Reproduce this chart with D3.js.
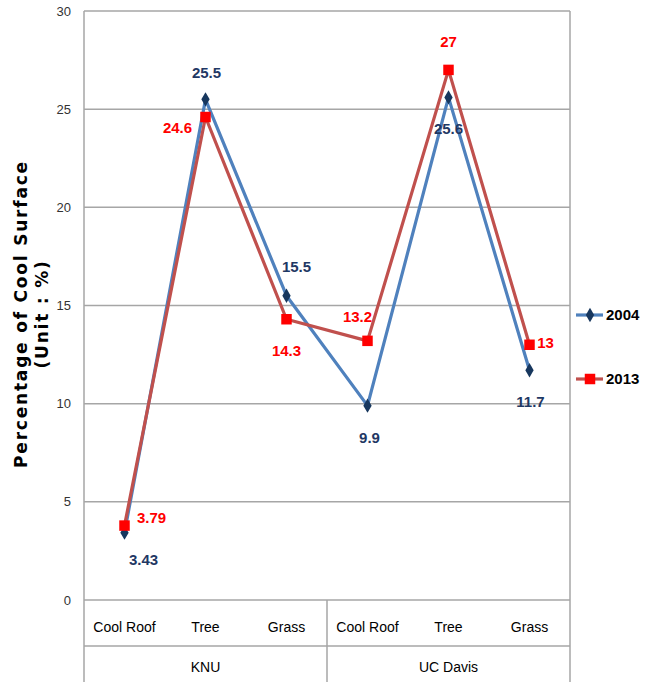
<!DOCTYPE html>
<html><head><meta charset="utf-8">
<script src="https://cdn.jsdelivr.net/npm/d3@7"></script>
<style>
body{margin:0;background:#fff;}
svg{display:block;}
</style></head>
<body>
<svg id="chart" width="655" height="682"></svg>
<script>
// ---- data ----
const categories = ["Cool Roof","Tree","Grass","Cool Roof","Tree","Grass"];
const groups = ["KNU","UC Davis"];
const seriesNames = ["2004","2013"];
const values2004 = [3.43, 25.5, 15.5, 9.9, 25.6, 11.7];
const values2013 = [3.79, 24.6, 14.3, 13.2, 27, 13];
const labels2004 = ["3.43","25.5","15.5","9.9","25.6","11.7"];
const labels2013 = ["3.79","24.6","14.3","13.2","27","13"];
const yTicks = [0,5,10,15,20,25,30];
// label placement (layout, not data): [dx, dy] from point to label centre
const place2004 = [[19,27],[1,-27],[10,-29],[2,32],[0,31],[1,31]];
const place2013 = [[27,-8],[-28,11],[0,32],[-10,-24],[0,-28],[16,-2]];

const svg = d3.select("#chart");
const L = 84, R = 570, T = 11, B = 600, catRowB = 646, H = 682;
const narrow = "'Liberation Sans Narrow','Arial Narrow','Liberation Sans',sans-serif";

const x = d3.scaleBand().domain(d3.range(categories.length)).range([L, R]);
const y = d3.scaleLinear().domain([0, 30]).range([B, T]);
const grid = "#a6a6a6";

// gridlines
svg.append("g").selectAll("line").data(yTicks).join("line")
  .attr("x1", L).attr("x2", R)
  .attr("y1", d => y(d)).attr("y2", d => y(d))
  .attr("stroke", grid).attr("stroke-width", 1.5);

// y tick labels
svg.append("g").selectAll("text").data(yTicks).join("text")
  .attr("x", 71).attr("y", d => y(d)).attr("dy", "0.35em")
  .attr("text-anchor", "end")
  .style("font-family", narrow).style("font-size", "13px").attr("fill", "#333")
  .text(d => d);

// frame / table lines
const vlines = [[L, T, H], [R, T, H], [(L + R) / 2, B, H]];
svg.append("g").selectAll("line").data(vlines).join("line")
  .attr("x1", d => d[0]).attr("x2", d => d[0]).attr("y1", d => d[1]).attr("y2", d => d[2])
  .attr("stroke", grid).attr("stroke-width", 1.5);
svg.append("line").attr("x1", L).attr("x2", R).attr("y1", catRowB).attr("y2", catRowB)
  .attr("stroke", grid).attr("stroke-width", 1.5);

// category labels
svg.append("g").selectAll("text").data(categories).join("text")
  .attr("x", (d, i) => x(i) + x.bandwidth() / 2).attr("y", 627).attr("dy", "0.35em")
  .attr("text-anchor", "middle")
  .style("font-family", narrow).style("font-size", "14px").attr("fill", "#000")
  .text(d => d);
// group labels
const gx = d3.scaleBand().domain(groups).range([L, R]);
svg.append("g").selectAll("text").data(groups).join("text")
  .attr("x", d => gx(d) + gx.bandwidth() / 2).attr("y", 667).attr("dy", "0.35em")
  .attr("text-anchor", "middle")
  .style("font-family", narrow).style("font-size", "14px").attr("fill", "#000")
  .text(d => d);

// y axis title
const title = svg.append("text")
  .attr("transform", "translate(29,314) rotate(-90)")
  .attr("text-anchor", "middle")
  .style("font-family", "'DejaVu Sans',Verdana,sans-serif").style("font-weight", "bold")
  .style("font-size", "17px").style("letter-spacing", "1.8px").attr("fill", "#000");
title.append("tspan").attr("x", 0).attr("dy", "-0.1em").text("Percentage of Cool Surface");
title.append("tspan").attr("x", 0).attr("dy", "1.2em").text("(Unit : %)");

const series = [
  {name: seriesNames[0], vals: values2004, labs: labels2004, place: place2004, line: "#4f81bd", mark: "#17375e", label: "#1f3864", sym: d3.symbolDiamond, size: 60},
  {name: seriesNames[1], vals: values2013, labs: labels2013, place: place2013, line: "#c0504d", mark: "#ff0000", label: "#ff0000", sym: d3.symbolSquare, size: 110}
];

const cx = i => x(i) + x.bandwidth() / 2;
const lineGen = d3.line().x((d, i) => cx(i)).y(d => y(d));

series.forEach(s => {
  svg.append("path").datum(s.vals).attr("d", lineGen)
    .attr("fill", "none").attr("stroke", s.line).attr("stroke-width", 3.2)
    .attr("stroke-linejoin", "round");
});
series.forEach(s => {
  svg.append("g").selectAll("path").data(s.vals).join("path")
    .attr("transform", (d, i) => `translate(${cx(i)},${y(d)})`)
    .attr("d", d3.symbol().type(s.sym).size(s.size))
    .attr("fill", s.mark);
});
series.forEach(s => {
  svg.append("g").selectAll("text").data(s.vals).join("text")
    .attr("x", (d, i) => cx(i) + s.place[i][0])
    .attr("y", (d, i) => y(d) + s.place[i][1])
    .attr("dy", "0.35em").attr("text-anchor", "middle")
    .style("font-family", narrow).style("font-weight", "bold").style("font-size", "15px")
    .attr("fill", s.label)
    .text((d, i) => s.labs[i]);
});

// legend
const legY = [315, 379];
const leg = svg.append("g").selectAll("g").data(series).join("g")
  .attr("transform", (d, i) => `translate(0,${legY[i]})`);
leg.append("line").attr("x1", 576).attr("x2", 603).attr("y1", 0).attr("y2", 0)
  .attr("stroke", d => d.line).attr("stroke-width", 3.2);
leg.append("path").attr("transform", "translate(590,0)")
  .attr("d", d => d3.symbol().type(d.sym).size(d.size)())
  .attr("fill", d => d.mark);
leg.append("text").attr("x", 606).attr("y", 0).attr("dy", "0.35em")
  .style("font-family", narrow).style("font-weight", "bold").style("font-size", "15px")
  .attr("fill", "#000").text(d => d.name);
</script>
</body></html>
